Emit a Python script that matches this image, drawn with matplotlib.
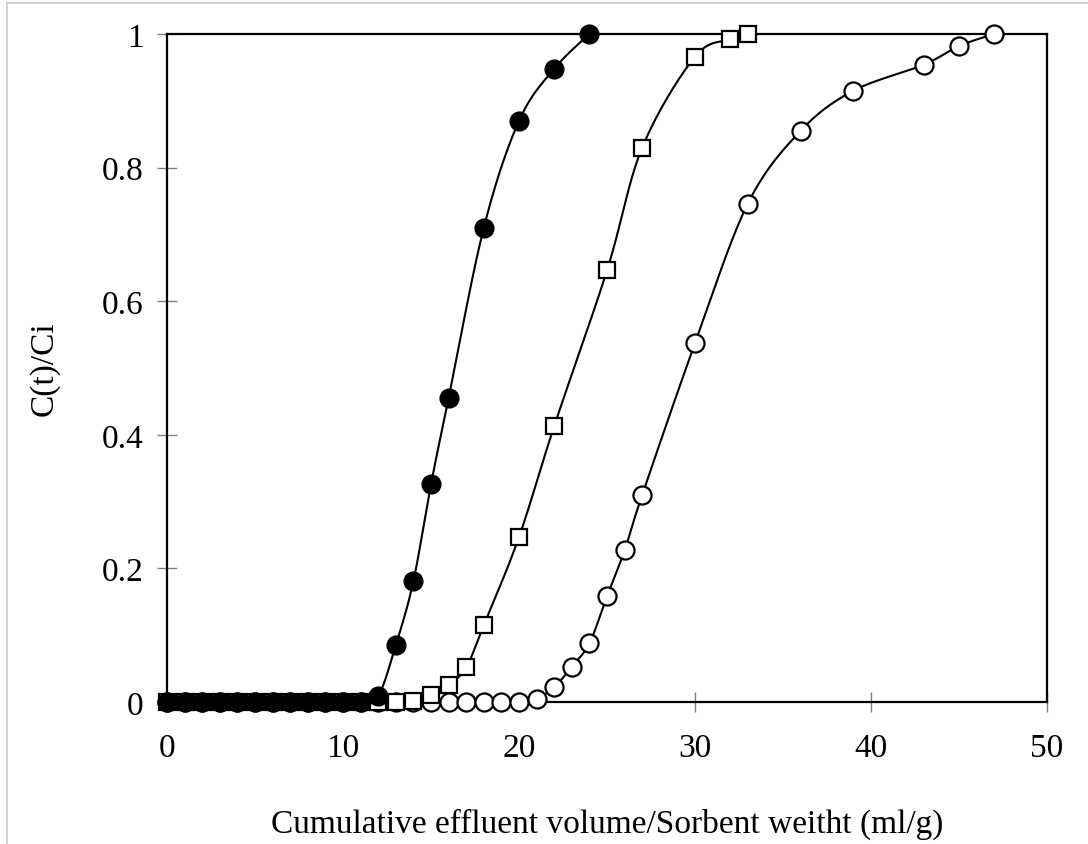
import numpy as np
import matplotlib.pyplot as plt
from matplotlib.lines import Line2D

plt.rcParams['font.family'] = ['Liberation Serif', 'DejaVu Serif']

# breakthrough data, C(t)/Ci against effluent volume per sorbent weight
x_filled = [0, 1, 2, 3, 4, 5, 6, 7, 8, 9, 10, 11, 12, 13, 14, 15, 16, 18, 20, 22, 24]
y_filled = [0, 0, 0, 0, 0, 0, 0, 0, 0, 0, 0, 0, 0.009, 0.085, 0.181, 0.326, 0.455,
            0.71, 0.87, 0.948, 1.0]

x_square = [0, 1, 2, 3, 4, 5, 6, 7, 8, 9, 10, 11, 12, 13, 14, 15, 16, 17, 18, 20,
            22, 25, 27, 30, 32, 33]
y_square = [0, 0, 0, 0, 0, 0, 0, 0, 0, 0, 0, 0, 0, 0, 0.002, 0.01, 0.025, 0.052,
            0.115, 0.247, 0.413, 0.646, 0.83, 0.966, 0.992, 1.0]

x_open = [0, 1, 2, 3, 4, 5, 6, 7, 8, 9, 10, 11, 12, 13, 14, 15, 16, 17, 18, 19, 20,
          21, 22, 23, 24, 25, 26, 27, 30, 33, 36, 39, 43, 45, 47]
y_open = [0, 0, 0, 0, 0, 0, 0, 0, 0, 0, 0, 0, 0, 0, 0, 0, 0, 0, 0, 0, 0,
          0.005, 0.022, 0.053, 0.088, 0.158, 0.227, 0.31, 0.537, 0.746, 0.855,
          0.915, 0.954, 0.982, 1.0]


def smooth(xs, ys, n=20):
    # piecewise cubic bezier through the points (catmull-rom tangents)
    p = np.column_stack([xs, ys]).astype(float)
    p = np.vstack([p[0], p, p[-1]])
    out = []
    t = np.linspace(0, 1, n)[:, None]
    for i in range(1, len(p) - 2):
        p0, p1, p2, p3 = p[i - 1], p[i], p[i + 1], p[i + 2]
        c1 = p1 + (p2 - p0) / 6
        c2 = p2 - (p3 - p1) / 6
        seg = ((1 - t) ** 3) * p1 + 3 * ((1 - t) ** 2) * t * c1 \
            + 3 * (1 - t) * t ** 2 * c2 + t ** 3 * p2
        out.append(seg)
    s = np.vstack(out)
    return s[:, 0], s[:, 1]


fig = plt.figure(figsize=(10.88, 8.45), dpi=100)
ax = fig.add_axes([0.1535, 0.168, 0.8088, 0.7906])

# thin page border at the top and left
fig.add_artist(Line2D([7 / 1088, 7 / 1088], [0, 1 - 4 / 845], color='#cccccc', lw=1.2,
                      transform=fig.transFigure))
fig.add_artist(Line2D([7 / 1088, 1], [1 - 4 / 845, 1 - 4 / 845], color='#cccccc', lw=1.2,
                      transform=fig.transFigure))

for xs, ys in [(x_open, y_open), (x_square, y_square), (x_filled, y_filled)]:
    sx, sy = smooth(xs, ys)
    ax.plot(sx, sy, color='black', lw=1.5, zorder=2)

ax.plot(x_open, y_open, 'o', ms=13, mfc='white', mec='black', mew=1.6,
        ls='none', zorder=3, clip_on=False)
ax.plot(x_square, y_square, 's', ms=11, mfc='white', mec='black', mew=1.6,
        ls='none', zorder=4, clip_on=False)
ax.plot(x_filled, y_filled, 'o', ms=13.5, mfc='black', mec='black', mew=1,
        ls='none', zorder=5, clip_on=False)

ax.set_xlim(0, 50)
ax.set_ylim(0, 1)
ax.set_xticks([0, 10, 20, 30, 40, 50])
ax.set_yticks([0, 0.2, 0.4, 0.6, 0.8, 1])
ax.set_yticklabels(['0', '0.2', '0.4', '0.6', '0.8', '1'])
ax.tick_params(direction='inout', length=14, width=1, color='#808080',
               labelsize=24, pad=10)
ax.tick_params(axis='x', pad=15)
for sp in ax.spines.values():
    sp.set_linewidth(1.6)

ax.set_xlabel('Cumulative effluent volume/Sorbent weitht (ml/g)', fontsize=24,
              labelpad=32)
ax.set_ylabel('C(t)/Ci', fontsize=24, labelpad=30)

fig.savefig('out.png', dpi=100)
